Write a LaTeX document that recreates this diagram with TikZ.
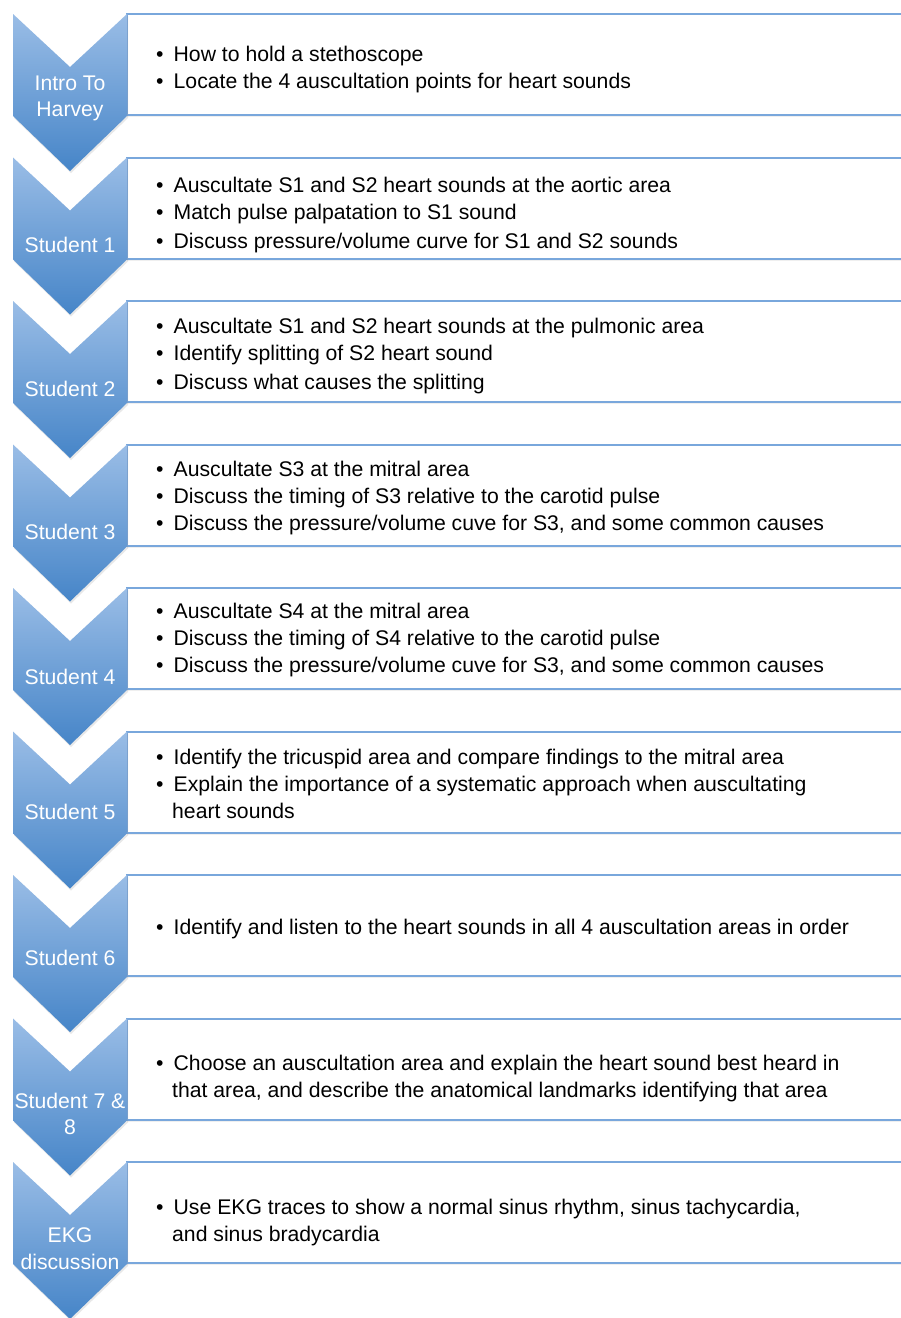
\documentclass[tikz,border=0pt]{standalone}
\usepackage{fontspec}
\setmainfont{Liberation Sans}
\usetikzlibrary{shadows}

\definecolor{chevhaut}{HTML}{9ABDE6}
\definecolor{chevbas}{HTML}{4685C8}
\definecolor{bordbleu}{HTML}{79A7DC}

\newcommand{\Puce}{\makebox[17.5pt][l]{\textbullet}}
\newcommand{\Suite}{\hspace{16pt}}

% chevron d'une etape (#1 = haut de l'etape)
\newcommand{\Chevron}[1]{%
    \shade[top color=chevhaut,bottom color=chevbas,
        drop shadow={opacity=.18,shadow xshift=1pt,shadow yshift=-2pt}]
        (13,#1) -- (70,{#1+53}) -- (127,#1) -- (127,{#1+102})
        -- (70,{#1+157}) -- (13,{#1+102}) -- cycle ;
}

% cadre du texte (#1 = haut de l'etape)
\newcommand{\Cadre}[1]{%
    \draw[bordbleu,line width=2pt,fill=white,
        drop shadow={opacity=.12,shadow xshift=0pt,shadow yshift=-2pt}]
        (127,#1) rectangle (915,{#1+101}) ;
}

\tikzset{
    etiquette/.style={text=white,align=center,inner sep=0pt,
        font=\fontsize{21.2}{26.5}\selectfont},
    texte/.style={text=black,align=left,anchor=west,inner sep=0pt,
        font=\fontsize{21.2}{27}\selectfont}
}

\begin{document}
\begin{tikzpicture}[x=1pt,y=-1pt]

\useasboundingbox (0,0) rectangle (901,1318);
\fill[white] (0,0) rectangle (901,1318);

\foreach \i/\lab/\ly/\ty/\txt in {%
    1/{Intro To\\Harvey}/84.5/55.5/{\Puce How to hold a stethoscope\\
        \Puce Locate the 4 auscultation points for heart sounds},
    2/{Student 1}/87.5/58/{\Puce Auscultate S1 and S2 heart sounds at the aortic area\\
        \Puce Match pulse palpatation to S1 sound\\[2pt]
        \Puce Discuss pressure/volume curve for S1 and S2 sounds},
    3/{Student 2}/87.5/55/{\Puce Auscultate S1 and S2 heart sounds at the pulmonic area\\
        \Puce Identify splitting of S2 heart sound\\[2pt]
        \Puce Discuss what causes the splitting},
    4/{Student 3}/87.5/53.5/{\Puce Auscultate S3 at the mitral area\\
        \Puce Discuss the timing of S3 relative to the carotid pulse\\
        \Puce Discuss the pressure/volume cuve for S3, and some common causes},
    5/{Student 4}/89/52/{\Puce Auscultate S4 at the mitral area\\
        \Puce Discuss the timing of S4 relative to the carotid pulse\\
        \Puce Discuss the pressure/volume cuve for S3, and some common causes},
    6/{Student 5}/80/52/{\Puce Identify the tricuspid area and compare findings to the mitral area\\
        \Puce Explain the importance of a systematic approach when auscultating\\
        \Suite heart sounds},
    7/{Student 6}/82.5/54.5/{\Puce Identify and listen to the heart sounds in all 4 auscultation areas in order},
    8/{Student 7 \&\\8}/95.5/60.5/{\Puce Choose an auscultation area and explain the heart sound best heard in\\
        \Suite that area, and describe the anatomical landmarks identifying that area},
    9/{EKG\\discussion}/86.5/60.5/{\Puce Use EKG traces to show a normal sinus rhythm, sinus tachycardia,\\
        \Suite and sinus bradycardia}%
}{
    \pgfmathsetmacro{\y}{14+143.5*(\i-1)}
    \Cadre{\y}
    \Chevron{\y}
    \node[etiquette] (etiq\i) at (70,{\y+\ly}) {\lab};
    \node[texte] (texte\i) at (156,{\y+\ty}) {\txt};
}

\end{tikzpicture}
\end{document}
